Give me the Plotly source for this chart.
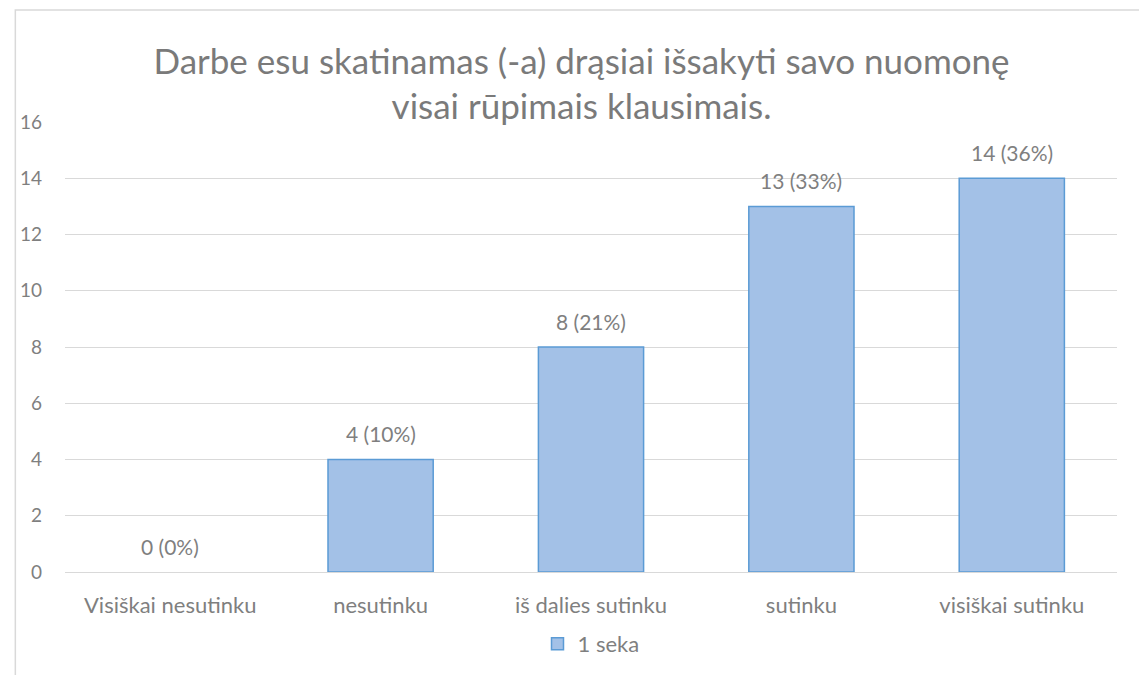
import plotly.graph_objects as go

categories = ["Visiškai nesutinku", "nesutinku", "iš dalies sutinku", "sutinku", "visiškai sutinku"]
counts = [0, 4, 8, 13, 14]
percents = [0, 10, 21, 33, 36]
series_name = "1 seka"
title_lines = ["Darbe esu skatinamas (-a) drąsiai išsakyti savo nuomonę", "visai rūpimais klausimais."]
y_ticks = [0, 2, 4, 6, 8, 10, 12, 14, 16]

labels = [f"{c} ({p}%)" for c, p in zip(counts, percents)]
FONT = "Lato, 'Open Sans', sans-serif"
GRAY = "#7f7f7f"
FILL = "#a3c1e7"
EDGE = "#5b9bd5"
edge_colors = [EDGE if c > 0 else "rgba(0,0,0,0)" for c in counts]

fig = go.Figure()
fig.add_trace(go.Bar(
    x=categories, y=counts, name=series_name,
    marker=dict(color=FILL, line=dict(color=edge_colors, width=1.5)),
    showlegend=False,
))
# legend entry (same style, solid edge)
fig.add_trace(go.Bar(
    x=[None], y=[None], name=series_name,
    marker=dict(color=FILL, line=dict(color=EDGE, width=1.5)),
    showlegend=True,
))

for cat, val, lab in zip(categories, counts, labels):
    fig.add_annotation(x=cat, y=val, text=lab, showarrow=False, yshift=26,
                       yanchor="middle", font=dict(family=FONT, size=21, color=GRAY))

fig.update_layout(
    width=1147, height=675,
    paper_bgcolor="white", plot_bgcolor="white",
    margin=dict(l=50, r=38, t=114, b=111),
    bargap=0.5, barmode="overlay",
    title=dict(text="<br>".join(title_lines), x=0.5, xanchor="center",
               yref="container", y=1 - 65.5 / 675, yanchor="middle",
               font=dict(family=FONT, size=35, color="#7a7a7a")),
    font=dict(family=FONT, size=20, color=GRAY),
    xaxis=dict(showgrid=False, showline=False, ticks="", ticklabelstandoff=18,
               categoryorder="array", categoryarray=categories,
               tickfont=dict(family=FONT, size=22, color=GRAY)),
    yaxis=dict(range=[0, 16], tickvals=y_ticks, showgrid=True, gridcolor="#d9d9d9",
               gridwidth=1, zeroline=True, zerolinecolor="#d9d9d9", zerolinewidth=1,
               showline=False, ticks="", ticklabelstandoff=22,
               tickfont=dict(family=FONT, size=19, color=GRAY)),
    legend=dict(orientation="h", x=0.5, xanchor="center", y=-0.16, yanchor="middle",
                font=dict(family=FONT, size=22, color=GRAY),
                itemwidth=30),
    shapes=[dict(type="rect", xref="paper", yref="paper",
                 x0=-50/1059, x1=1.2, y0=-0.5, y1=(122-10)/450 + 1,
                 line=dict(color="#d9d9d9", width=1.5), fillcolor="rgba(0,0,0,0)",
                 layer="below")],
)

fig.write_html("out.html")
